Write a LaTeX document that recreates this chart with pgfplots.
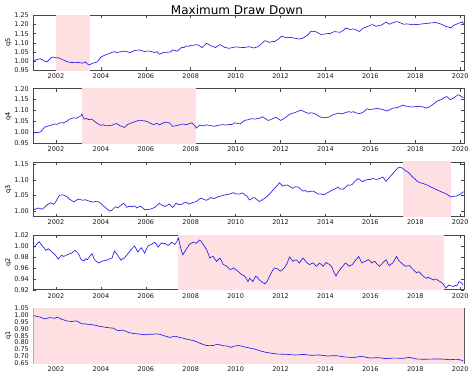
\documentclass[border=0pt]{standalone}
\usepackage{fontspec}
\setmainfont{DejaVu Sans}
\usepackage{pgfplots}
\pgfplotsset{compat=1.18}
\definecolor{shade}{RGB}{255,224,226}
\definecolor{framec}{RGB}{70,70,70}
\definecolor{linec}{RGB}{30,30,235}
\pgfplotsset{
 panel/.style={
  scale only axis, width=430.7pt, height=54.7pt,
  xmin=2000.99, xmax=2020.17,
  xtick={2002,2004,2006,2008,2010,2012,2014,2016,2018,2020},
  xticklabels={2002,2004,2006,2008,2010,2012,2014,2016,2018,2020},
  tick align=inside, xtick pos=both, ytick pos=both,
  major tick length=3pt,
  every tick/.style={framec, line width=0.5pt},
  axis line style={framec, line width=0.6pt},
  tick label style={font=\fontsize{6.5}{7}\selectfont, text=black!90, inner sep=0pt},
  xticklabel style={yshift=-3.3pt},
  yticklabel style={xshift=-4.3pt, /pgf/number format/fixed, /pgf/number format/fixed zerofill, /pgf/number format/precision=2},
  /pgf/number format/assume math mode=true,
  ylabel style={at={(axis description cs:-0.0576,0.5)}, anchor=center, font=\fontsize{6.5}{7}\selectfont},
  anchor=south west,
 },
 dataline/.style={linec, line width=0.65pt},
 span/.style={draw=none, fill=shade},
}
\begin{document}
\begin{tikzpicture}
\useasboundingbox (0,0) rectangle (474pt,378pt);
\node[font=\fontsize{12}{14}\selectfont, anchor=base] at (237pt,363.5pt) {Maximum Draw Down};

% q5
\begin{axis}[panel, at={(33.3pt,307.8pt)}, ymin=0.95, ymax=1.25, ytick={0.95,1.00,1.05,1.10,1.15,1.20,1.25}, ylabel={q5}]
\addplot[span] coordinates {(2002.0,0.9) (2003.5,0.9) (2003.5,1.3) (2002.0,1.3)} -- cycle;
\addplot[dataline] coordinates {
(2001.0,1.002) (2001.15,1.008) (2001.3,1.013) (2001.42,1.006) (2001.5,0.999) (2001.6,0.996) (2001.8,1.02) (2001.9,1.022) (2002.0,1.017) (2002.1,1.019) (2002.2,1.012) (2002.3,1.008) (2002.4,1.002) (2002.5,0.997) (2002.6,0.993) (2002.75,0.992) (2002.9,0.991) (2003.0,0.993) (2003.1,0.99) (2003.2,0.989) (2003.3,0.996) (2003.4,0.984) (2003.5,0.98) (2003.6,0.986) (2003.66,0.989) (2003.8,0.993) (2003.9,1.005) (2004.0,1.022) (2004.1,1.028) (2004.2,1.034) (2004.3,1.038) (2004.4,1.043) (2004.5,1.048) (2004.6,1.052) (2004.7,1.047) (2004.8,1.049) (2004.95,1.053) (2005.1,1.054) (2005.2,1.05) (2005.3,1.047) (2005.4,1.052) (2005.5,1.058) (2005.6,1.06) (2005.7,1.061) (2005.8,1.058) (2005.95,1.052) (2006.05,1.055) (2006.2,1.054) (2006.3,1.05) (2006.4,1.047) (2006.5,1.052) (2006.6,1.038) (2006.7,1.042) (2006.8,1.049) (2006.95,1.048) (2007.1,1.05) (2007.2,1.061) (2007.3,1.058) (2007.4,1.054) (2007.5,1.065) (2007.6,1.076) (2007.7,1.074) (2007.8,1.083) (2007.9,1.081) (2008.0,1.087) (2008.1,1.086) (2008.25,1.09) (2008.35,1.088) (2008.5,1.074) (2008.6,1.085) (2008.7,1.097) (2008.8,1.092) (2008.9,1.083) (2009.0,1.08) (2009.1,1.074) (2009.2,1.082) (2009.3,1.09) (2009.4,1.084) (2009.5,1.076) (2009.6,1.073) (2009.7,1.07) (2009.85,1.074) (2010.0,1.078) (2010.15,1.076) (2010.35,1.074) (2010.5,1.077) (2010.6,1.079) (2010.8,1.072) (2010.9,1.075) (2011.0,1.079) (2011.1,1.09) (2011.2,1.1) (2011.3,1.112) (2011.4,1.108) (2011.5,1.103) (2011.6,1.106) (2011.75,1.108) (2011.9,1.12) (2012.05,1.137) (2012.15,1.132) (2012.3,1.128) (2012.45,1.13) (2012.6,1.126) (2012.7,1.124) (2012.8,1.121) (2012.9,1.123) (2013.0,1.126) (2013.1,1.134) (2013.2,1.142) (2013.3,1.155) (2013.35,1.164) (2013.5,1.162) (2013.6,1.16) (2013.7,1.152) (2013.8,1.146) (2013.9,1.147) (2014.0,1.149) (2014.1,1.152) (2014.2,1.151) (2014.3,1.156) (2014.4,1.162) (2014.5,1.16) (2014.65,1.158) (2014.8,1.168) (2014.9,1.182) (2015.0,1.178) (2015.1,1.173) (2015.2,1.176) (2015.3,1.175) (2015.4,1.168) (2015.5,1.162) (2015.6,1.172) (2015.7,1.182) (2015.8,1.186) (2015.9,1.191) (2016.0,1.196) (2016.1,1.2) (2016.25,1.191) (2016.35,1.194) (2016.5,1.198) (2016.6,1.206) (2016.7,1.214) (2016.85,1.202) (2016.95,1.208) (2017.1,1.214) (2017.2,1.216) (2017.3,1.212) (2017.4,1.206) (2017.5,1.202) (2017.6,1.204) (2017.75,1.202) (2017.85,1.199) (2017.95,1.202) (2018.05,1.2) (2018.2,1.202) (2018.3,1.204) (2018.4,1.205) (2018.55,1.207) (2018.65,1.209) (2018.8,1.21) (2018.9,1.212) (2019.0,1.208) (2019.1,1.205) (2019.2,1.2) (2019.35,1.191) (2019.5,1.186) (2019.6,1.182) (2019.7,1.196) (2019.8,1.2) (2019.95,1.209) (2020.05,1.212) (2020.1,1.216) (2020.15,1.205)
};
\end{axis}

% q4
\begin{axis}[panel, at={(33.3pt,234.6pt)}, ymin=0.95, ymax=1.20, ytick={0.95,1.00,1.05,1.10,1.15,1.20}, ylabel={q4}]
\addplot[span] coordinates {(2003.16,0.9) (2008.24,0.9) (2008.24,1.3) (2003.16,1.3)} -- cycle;
\addplot[dataline] coordinates {
(2001.0,0.997) (2001.1,1.0) (2001.2,1.0) (2001.3,1.002) (2001.4,1.012) (2001.5,1.025) (2001.6,1.028) (2001.7,1.031) (2001.8,1.034) (2001.95,1.039) (2002.05,1.037) (2002.2,1.045) (2002.3,1.043) (2002.4,1.047) (2002.5,1.052) (2002.6,1.061) (2002.7,1.064) (2002.8,1.067) (2002.9,1.065) (2003.0,1.07) (2003.1,1.075) (2003.15,1.084) (2003.25,1.061) (2003.35,1.064) (2003.45,1.059) (2003.6,1.061) (2003.7,1.052) (2003.8,1.044) (2003.9,1.038) (2004.0,1.033) (2004.1,1.035) (2004.25,1.03) (2004.4,1.032) (2004.5,1.033) (2004.6,1.038) (2004.7,1.041) (2004.85,1.031) (2004.95,1.027) (2005.05,1.023) (2005.2,1.037) (2005.3,1.041) (2005.45,1.047) (2005.55,1.05) (2005.7,1.056) (2005.8,1.055) (2005.9,1.053) (2006.0,1.052) (2006.1,1.048) (2006.2,1.042) (2006.35,1.036) (2006.5,1.042) (2006.6,1.034) (2006.7,1.04) (2006.85,1.047) (2006.95,1.046) (2007.05,1.044) (2007.2,1.028) (2007.3,1.03) (2007.45,1.033) (2007.55,1.036) (2007.65,1.039) (2007.8,1.035) (2007.9,1.039) (2008.05,1.044) (2008.15,1.035) (2008.25,1.02) (2008.4,1.033) (2008.5,1.032) (2008.6,1.03) (2008.7,1.035) (2008.8,1.033) (2008.95,1.03) (2009.05,1.028) (2009.15,1.031) (2009.25,1.033) (2009.4,1.036) (2009.55,1.034) (2009.7,1.036) (2009.85,1.037) (2009.96,1.044) (2010.1,1.041) (2010.2,1.039) (2010.3,1.047) (2010.4,1.055) (2010.55,1.058) (2010.7,1.063) (2010.85,1.061) (2011.0,1.064) (2011.1,1.066) (2011.2,1.072) (2011.3,1.065) (2011.45,1.055) (2011.55,1.058) (2011.65,1.063) (2011.8,1.07) (2011.9,1.062) (2012.0,1.055) (2012.1,1.06) (2012.2,1.067) (2012.3,1.075) (2012.4,1.083) (2012.5,1.087) (2012.65,1.091) (2012.75,1.096) (2012.9,1.102) (2013.0,1.098) (2013.1,1.093) (2013.25,1.087) (2013.35,1.09) (2013.5,1.087) (2013.6,1.081) (2013.7,1.075) (2013.8,1.07) (2013.9,1.067) (2014.0,1.068) (2014.15,1.07) (2014.25,1.077) (2014.4,1.083) (2014.5,1.086) (2014.6,1.089) (2014.7,1.085) (2014.8,1.087) (2014.95,1.093) (2015.05,1.095) (2015.15,1.092) (2015.25,1.095) (2015.35,1.09) (2015.5,1.086) (2015.6,1.089) (2015.7,1.094) (2015.85,1.108) (2015.95,1.105) (2016.1,1.106) (2016.2,1.108) (2016.3,1.111) (2016.45,1.107) (2016.55,1.105) (2016.65,1.101) (2016.75,1.098) (2016.9,1.106) (2017.0,1.111) (2017.1,1.112) (2017.2,1.114) (2017.35,1.12) (2017.45,1.125) (2017.55,1.121) (2017.7,1.119) (2017.8,1.116) (2017.9,1.117) (2018.05,1.118) (2018.15,1.12) (2018.25,1.118) (2018.35,1.117) (2018.5,1.111) (2018.6,1.116) (2018.75,1.125) (2018.85,1.133) (2018.95,1.142) (2019.1,1.148) (2019.2,1.153) (2019.3,1.16) (2019.4,1.164) (2019.5,1.156) (2019.55,1.15) (2019.65,1.154) (2019.75,1.161) (2019.85,1.168) (2019.9,1.173) (2020.0,1.168) (2020.05,1.164) (2020.15,1.158)
};
\end{axis}

% q3
\begin{axis}[panel, at={(33.3pt,161.4pt)}, ymin=0.981, ymax=1.159, ytick={1.00,1.05,1.10,1.15}, ylabel={q3}]
\addplot[span] coordinates {(2017.44,0.9) (2019.57,0.9) (2019.57,1.3) (2017.44,1.3)} -- cycle;
\addplot[dataline] coordinates {
(2001.0,1.003) (2001.1,1.006) (2001.2,1.009) (2001.3,1.007) (2001.4,1.005) (2001.5,1.012) (2001.6,1.019) (2001.75,1.026) (2001.9,1.021) (2001.98,1.028) (2002.05,1.038) (2002.15,1.05) (2002.3,1.052) (2002.4,1.049) (2002.5,1.045) (2002.6,1.038) (2002.7,1.033) (2002.8,1.029) (2002.9,1.034) (2003.0,1.038) (2003.1,1.036) (2003.2,1.034) (2003.3,1.036) (2003.45,1.032) (2003.55,1.03) (2003.65,1.028) (2003.75,1.03) (2003.9,1.029) (2004.05,1.021) (2004.12,1.015) (2004.2,1.011) (2004.3,1.004) (2004.4,0.999) (2004.5,1.002) (2004.65,1.013) (2004.75,1.01) (2004.85,1.015) (2005.0,1.024) (2005.08,1.02) (2005.15,1.011) (2005.25,1.015) (2005.4,1.013) (2005.5,1.016) (2005.6,1.009) (2005.75,1.015) (2005.85,1.01) (2005.95,1.003) (2006.05,1.004) (2006.2,1.005) (2006.3,1.008) (2006.4,1.011) (2006.5,1.018) (2006.6,1.024) (2006.7,1.019) (2006.85,1.014) (2006.95,1.018) (2007.05,1.021) (2007.2,1.011) (2007.35,1.025) (2007.45,1.02) (2007.6,1.021) (2007.7,1.026) (2007.8,1.027) (2007.9,1.022) (2008.0,1.024) (2008.1,1.027) (2008.25,1.03) (2008.35,1.036) (2008.45,1.041) (2008.55,1.038) (2008.7,1.034) (2008.8,1.038) (2008.9,1.043) (2009.0,1.04) (2009.1,1.041) (2009.2,1.045) (2009.35,1.048) (2009.45,1.05) (2009.55,1.052) (2009.7,1.054) (2009.8,1.056) (2009.9,1.059) (2010.0,1.055) (2010.15,1.054) (2010.3,1.058) (2010.4,1.052) (2010.5,1.048) (2010.6,1.037) (2010.65,1.035) (2010.75,1.042) (2010.84,1.043) (2010.95,1.036) (2011.06,1.03) (2011.15,1.034) (2011.3,1.041) (2011.4,1.047) (2011.5,1.054) (2011.6,1.062) (2011.7,1.07) (2011.8,1.078) (2011.95,1.091) (2012.1,1.08) (2012.2,1.083) (2012.3,1.084) (2012.45,1.077) (2012.55,1.073) (2012.65,1.078) (2012.8,1.077) (2012.9,1.07) (2013.0,1.064) (2013.1,1.066) (2013.2,1.061) (2013.3,1.063) (2013.45,1.064) (2013.55,1.06) (2013.7,1.054) (2013.8,1.055) (2013.9,1.052) (2014.0,1.055) (2014.1,1.059) (2014.2,1.063) (2014.3,1.067) (2014.45,1.072) (2014.55,1.077) (2014.65,1.071) (2014.8,1.07) (2014.9,1.077) (2015.0,1.084) (2015.1,1.083) (2015.2,1.086) (2015.3,1.095) (2015.45,1.105) (2015.55,1.1) (2015.65,1.095) (2015.75,1.099) (2015.9,1.102) (2016.0,1.101) (2016.1,1.105) (2016.2,1.103) (2016.3,1.102) (2016.45,1.106) (2016.55,1.11) (2016.7,1.096) (2016.8,1.104) (2016.9,1.113) (2017.05,1.125) (2017.2,1.138) (2017.3,1.142) (2017.4,1.14) (2017.5,1.135) (2017.55,1.131) (2017.65,1.127) (2017.75,1.121) (2017.85,1.112) (2018.0,1.102) (2018.1,1.096) (2018.2,1.091) (2018.3,1.09) (2018.45,1.086) (2018.55,1.083) (2018.7,1.077) (2018.8,1.074) (2018.9,1.07) (2019.0,1.067) (2019.15,1.062) (2019.25,1.059) (2019.4,1.054) (2019.5,1.049) (2019.6,1.045) (2019.7,1.047) (2019.85,1.048) (2019.95,1.052) (2020.05,1.056) (2020.15,1.062)
};
\end{axis}

% q2
\begin{axis}[panel, at={(33.3pt,88.2pt)}, ymin=0.92, ymax=1.02, ytick={0.92,0.94,0.96,0.98,1.00,1.02}, ylabel={q2}]
\addplot[span] coordinates {(2007.42,0.9) (2019.29,0.9) (2019.29,1.1) (2007.42,1.1)} -- cycle;
\addplot[dataline] coordinates {
(2001.0,0.997) (2001.1,1.001) (2001.18,1.005) (2001.25,1.008) (2001.32,1.004) (2001.4,1.0) (2001.48,0.996) (2001.55,0.992) (2001.65,0.995) (2001.72,0.993) (2001.8,0.99) (2001.88,0.987) (2001.95,0.984) (2002.02,0.981) (2002.1,0.976) (2002.18,0.98) (2002.25,0.983) (2002.35,0.981) (2002.45,0.983) (2002.55,0.985) (2002.7,0.987) (2002.78,0.99) (2002.85,0.992) (2002.93,0.989) (2003.0,0.986) (2003.05,0.982) (2003.1,0.976) (2003.18,0.974) (2003.25,0.973) (2003.33,0.977) (2003.4,0.975) (2003.5,0.981) (2003.6,0.986) (2003.65,0.982) (2003.7,0.976) (2003.8,0.972) (2003.9,0.969) (2004.0,0.971) (2004.1,0.973) (2004.25,0.974) (2004.35,0.976) (2004.5,0.978) (2004.55,0.985) (2004.6,0.991) (2004.68,0.987) (2004.75,0.983) (2004.83,0.978) (2004.9,0.974) (2004.98,0.977) (2005.05,0.978) (2005.12,0.982) (2005.2,0.986) (2005.28,0.99) (2005.35,0.994) (2005.42,0.997) (2005.5,1.0) (2005.58,0.994) (2005.65,0.989) (2005.72,0.993) (2005.8,0.997) (2005.88,0.992) (2005.95,0.987) (2006.02,0.994) (2006.1,1.0) (2006.18,1.002) (2006.25,1.003) (2006.32,1.005) (2006.4,1.007) (2006.48,1.003) (2006.55,0.998) (2006.62,1.002) (2006.7,1.006) (2006.78,1.004) (2006.85,1.005) (2006.92,1.003) (2007.0,1.001) (2007.08,1.004) (2007.15,1.007) (2007.22,1.005) (2007.3,1.003) (2007.38,1.008) (2007.45,1.015) (2007.5,1.006) (2007.55,0.997) (2007.6,0.99) (2007.65,0.984) (2007.72,0.989) (2007.8,0.994) (2007.88,0.999) (2007.95,1.003) (2008.02,1.005) (2008.1,1.007) (2008.18,1.006) (2008.25,1.005) (2008.32,1.008) (2008.4,1.011) (2008.48,1.008) (2008.55,1.003) (2008.62,0.999) (2008.7,0.994) (2008.78,0.986) (2008.85,0.978) (2008.92,0.98) (2009.0,0.981) (2009.08,0.976) (2009.15,0.972) (2009.22,0.975) (2009.3,0.978) (2009.38,0.972) (2009.45,0.966) (2009.52,0.965) (2009.6,0.963) (2009.68,0.96) (2009.75,0.957) (2009.82,0.958) (2009.9,0.96) (2010.0,0.957) (2010.1,0.954) (2010.18,0.951) (2010.25,0.948) (2010.32,0.947) (2010.4,0.945) (2010.48,0.94) (2010.55,0.935) (2010.62,0.941) (2010.7,0.938) (2010.77,0.935) (2010.84,0.941) (2010.9,0.945) (2010.98,0.942) (2011.06,0.938) (2011.15,0.935) (2011.22,0.933) (2011.3,0.931) (2011.35,0.933) (2011.4,0.935) (2011.5,0.944) (2011.6,0.952) (2011.67,0.957) (2011.73,0.96) (2011.8,0.959) (2011.88,0.958) (2011.95,0.955) (2012.0,0.954) (2012.08,0.957) (2012.17,0.96) (2012.23,0.964) (2012.3,0.969) (2012.35,0.975) (2012.4,0.98) (2012.48,0.976) (2012.55,0.972) (2012.62,0.974) (2012.7,0.975) (2012.77,0.972) (2012.84,0.969) (2012.92,0.974) (2013.0,0.978) (2013.07,0.975) (2013.14,0.971) (2013.22,0.968) (2013.3,0.966) (2013.38,0.968) (2013.45,0.969) (2013.52,0.966) (2013.6,0.963) (2013.67,0.966) (2013.73,0.969) (2013.82,0.966) (2013.9,0.963) (2013.97,0.967) (2014.03,0.97) (2014.1,0.968) (2014.2,0.966) (2014.25,0.963) (2014.3,0.96) (2014.38,0.952) (2014.47,0.945) (2014.53,0.95) (2014.6,0.954) (2014.68,0.959) (2014.77,0.963) (2014.83,0.966) (2014.9,0.969) (2014.98,0.966) (2015.06,0.963) (2015.13,0.965) (2015.2,0.966) (2015.28,0.971) (2015.36,0.975) (2015.42,0.978) (2015.48,0.981) (2015.55,0.975) (2015.63,0.969) (2015.7,0.971) (2015.78,0.972) (2015.85,0.974) (2015.92,0.975) (2016.0,0.972) (2016.07,0.969) (2016.13,0.971) (2016.2,0.972) (2016.3,0.967) (2016.4,0.963) (2016.48,0.966) (2016.55,0.969) (2016.62,0.972) (2016.7,0.975) (2016.77,0.969) (2016.84,0.964) (2016.92,0.967) (2017.0,0.969) (2017.08,0.975) (2017.17,0.981) (2017.23,0.976) (2017.3,0.972) (2017.38,0.969) (2017.46,0.966) (2017.53,0.964) (2017.6,0.963) (2017.68,0.964) (2017.76,0.964) (2017.83,0.96) (2017.9,0.957) (2017.98,0.954) (2018.06,0.951) (2018.13,0.953) (2018.2,0.952) (2018.28,0.948) (2018.35,0.945) (2018.42,0.943) (2018.5,0.941) (2018.58,0.943) (2018.65,0.941) (2018.72,0.94) (2018.8,0.938) (2018.88,0.94) (2018.95,0.939) (2019.02,0.937) (2019.1,0.935) (2019.17,0.933) (2019.24,0.931) (2019.3,0.927) (2019.36,0.923) (2019.43,0.926) (2019.5,0.929) (2019.6,0.927) (2019.7,0.926) (2019.77,0.928) (2019.84,0.927) (2019.9,0.931) (2019.95,0.935) (2020.0,0.934) (2020.07,0.932) (2020.13,0.929)
};
\end{axis}

% q1
\begin{axis}[panel, at={(33.3pt,15.0pt)}, ymin=0.65, ymax=1.05, ytick={0.65,0.70,0.75,0.80,0.85,0.90,0.95,1.00,1.05}, ylabel={q1}]
\addplot[span] coordinates {(2000.5,0.6) (2020.5,0.6) (2020.5,1.1) (2000.5,1.1)} -- cycle;
\addplot[dataline] coordinates {
(2001.0,0.997) (2001.15,0.99) (2001.3,0.985) (2001.4,0.978) (2001.5,0.972) (2001.6,0.977) (2001.73,0.982) (2001.85,0.979) (2001.95,0.977) (2002.05,0.985) (2002.15,0.978) (2002.25,0.97) (2002.35,0.965) (2002.47,0.958) (2002.6,0.955) (2002.7,0.953) (2002.8,0.956) (2002.9,0.958) (2003.0,0.952) (2003.14,0.936) (2003.25,0.937) (2003.36,0.934) (2003.5,0.932) (2003.66,0.929) (2003.8,0.924) (2003.96,0.917) (2004.1,0.914) (2004.25,0.91) (2004.4,0.907) (2004.55,0.905) (2004.65,0.895) (2004.77,0.885) (2004.88,0.889) (2005.0,0.89) (2005.1,0.882) (2005.2,0.875) (2005.32,0.87) (2005.44,0.866) (2005.6,0.864) (2005.73,0.861) (2005.85,0.859) (2005.96,0.856) (2006.07,0.859) (2006.18,0.861) (2006.3,0.86) (2006.47,0.863) (2006.6,0.86) (2006.7,0.856) (2006.8,0.85) (2006.92,0.844) (2007.07,0.837) (2007.2,0.842) (2007.3,0.846) (2007.4,0.842) (2007.5,0.837) (2007.65,0.832) (2007.8,0.825) (2007.95,0.82) (2008.1,0.815) (2008.25,0.806) (2008.4,0.795) (2008.55,0.786) (2008.7,0.778) (2008.85,0.777) (2009.0,0.778) (2009.1,0.783) (2009.2,0.788) (2009.32,0.782) (2009.44,0.776) (2009.55,0.775) (2009.66,0.773) (2009.8,0.764) (2009.91,0.772) (2010.03,0.776) (2010.13,0.778) (2010.3,0.772) (2010.43,0.766) (2010.6,0.76) (2010.8,0.754) (2011.0,0.744) (2011.17,0.735) (2011.35,0.728) (2011.54,0.723) (2011.72,0.718) (2011.91,0.715) (2012.1,0.714) (2012.28,0.713) (2012.45,0.711) (2012.65,0.708) (2012.85,0.711) (2013.02,0.713) (2013.2,0.709) (2013.4,0.706) (2013.6,0.708) (2013.76,0.708) (2013.95,0.704) (2014.13,0.701) (2014.3,0.703) (2014.5,0.703) (2014.7,0.698) (2014.87,0.694) (2015.05,0.692) (2015.24,0.689) (2015.4,0.694) (2015.6,0.699) (2015.8,0.692) (2016.0,0.686) (2016.17,0.688) (2016.35,0.689) (2016.55,0.685) (2016.72,0.682) (2016.9,0.685) (2017.1,0.686) (2017.3,0.685) (2017.47,0.684) (2017.6,0.688) (2017.76,0.691) (2017.9,0.685) (2018.06,0.679) (2018.25,0.678) (2018.43,0.677) (2018.6,0.678) (2018.8,0.679) (2019.0,0.679) (2019.17,0.679) (2019.35,0.677) (2019.54,0.674) (2019.7,0.676) (2019.84,0.677) (2020.0,0.673) (2020.13,0.667)
};
\end{axis}
\end{tikzpicture}
\end{document}
